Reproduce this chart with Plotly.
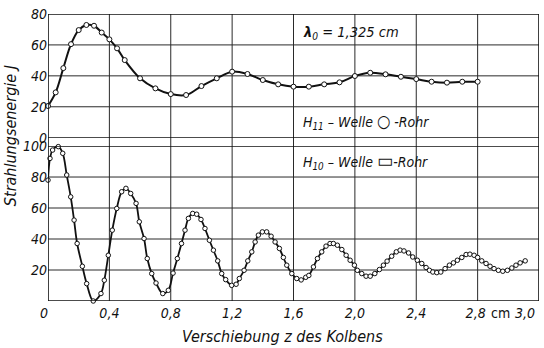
import plotly.graph_objects as go

# ---------------- data ----------------
# H11-Welle, round tube (upper panel)
H11_Z = [0, 0.05, 0.10, 0.15, 0.20, 0.25, 0.30, 0.35, 0.40, 0.45, 0.50,
         0.60, 0.70, 0.80, 0.90, 1.00, 1.10, 1.20, 1.30, 1.40, 1.50, 1.60,
         1.70, 1.80, 1.90, 2.00, 2.10, 2.20, 2.30, 2.40, 2.50, 2.60, 2.70, 2.80]
H11_J = [20.5, 29.3, 45.0, 60.5, 69.6, 72.9, 72.4, 68.0, 63.6, 57.8, 50.2,
         38.4, 31.9, 28.2, 27.6, 33.4, 38.4, 42.7, 41.2, 37.3, 34.5, 33.0,
         33.0, 34.5, 35.8, 39.9, 42.0, 41.0, 39.4, 37.9, 36.2, 35.6, 36.2, 36.2]

# H10-Welle, rectangular tube (lower panel)
H10_Z = [0.000, 0.013, 0.030, 0.067, 0.096, 0.122, 0.148, 0.170, 0.190, 0.224,
         0.252, 0.295, 0.345, 0.367, 0.393, 0.419, 0.448, 0.480, 0.508, 0.539,
         0.574, 0.595, 0.626, 0.647, 0.676, 0.704, 0.748, 0.784, 0.815, 0.843,
         0.870, 0.893, 0.915, 0.943, 0.969, 0.997, 1.023, 1.052, 1.078, 1.106,
         1.132, 1.158, 1.197, 1.226, 1.247, 1.278, 1.302, 1.328, 1.350, 1.371,
         1.397, 1.425, 1.454, 1.480, 1.508, 1.534, 1.556, 1.589, 1.621, 1.650,
         1.680, 1.700, 1.730, 1.756, 1.784, 1.812, 1.838, 1.860, 1.886, 1.915,
         1.943, 1.969, 1.997, 2.016, 2.045, 2.073, 2.100, 2.130, 2.160, 2.186,
         2.210, 2.240, 2.270, 2.295, 2.320, 2.350, 2.377, 2.407, 2.436, 2.464,
         2.486, 2.508, 2.534, 2.560, 2.588, 2.616, 2.642, 2.668, 2.697, 2.725,
         2.750, 2.777, 2.800, 2.827, 2.855, 2.881, 2.907, 2.935, 2.964, 2.994,
         3.023, 3.050, 3.077, 3.110]
H10_J = [78.0, 92.0, 97.4, 99.6, 95.3, 81.3, 67.2, 52.2, 37.1, 22.4,
         11.2, 0.0, 4.8, 13.4, 29.5, 45.7, 59.7, 70.5, 72.7, 69.4,
         63.0, 51.1, 40.3, 27.4, 17.7, 11.6, 4.8, 6.9, 18.0, 27.4,
         37.1, 45.7, 53.3, 56.5, 56.0, 52.6, 46.8, 39.2, 32.8, 25.9,
         17.7, 13.8, 10.1, 10.8, 14.5, 19.8, 25.9, 31.7, 38.1, 42.5,
         44.6, 44.6, 41.8, 38.1, 33.9, 28.1, 23.1, 17.7, 14.5, 13.6,
         15.3, 16.5, 22.0, 27.4, 31.7, 35.4, 37.1, 37.1, 36.0, 33.2,
         29.5, 26.3, 23.1, 19.8, 17.7, 16.0, 16.0, 17.7, 20.3, 23.1,
         25.7, 28.9, 31.7, 32.8, 32.3, 31.0, 28.4, 26.3, 24.2, 21.6,
         19.8, 18.7, 18.3, 18.7, 20.9, 23.1, 24.6, 26.3, 28.1, 30.0,
         30.2, 29.5, 28.1, 25.9, 24.2, 22.4, 20.9, 19.8, 19.2, 19.8,
         21.3, 23.1, 24.6, 25.9]

X_TICKS = [0, 0.4, 0.8, 1.2, 1.6, 2.0, 2.4, 2.8]
X_TICK_TEXT = ["0\u00a0\u00a0", "0,4", "0,8", "1,2", "1,6", "2,0", "2,4", "2,8\u00a0"]
X_END = 3.2
X_END_TEXT = "3,0"
X_UNIT = "cm"
Y_TOP_TICKS = [0, 20, 40, 60, 80]
Y_BOT_TICKS = [20, 40, 60, 80, 100]

X_TITLE = "Verschiebung z des Kolbens"
Y_TITLE = "Strahlungsenergie J"
NOTE_LAMBDA = "<b>λ</b><sub>0</sub> = 1,325 cm"
NOTE_H11 = "H<sub>11</sub> – Welle <span style='font-size:17px'>○</span> -Rohr"
NOTE_H10 = "H<sub>10</sub> – Welle <span style='font-size:19px'>▭</span>-Rohr"

FONT = "Liberation Sans Narrow, DejaVu Sans Condensed, Arial Narrow, DejaVu Sans, sans-serif"
INK = "#111111"

fig = go.Figure()
fig.add_trace(go.Scatter(
    x=H11_Z, y=H11_J, mode="lines+markers", xaxis="x", yaxis="y2",
    line=dict(color=INK, width=2, shape="spline", smoothing=1.0),
    marker=dict(symbol="circle", size=5, color="white", line=dict(color=INK, width=1)),
    showlegend=False, cliponaxis=False))
fig.add_trace(go.Scatter(
    x=H10_Z, y=H10_J, mode="lines+markers", xaxis="x", yaxis="y",
    line=dict(color=INK, width=1.8, shape="spline", smoothing=1.0),
    marker=dict(symbol="circle", size=4.5, color="white", line=dict(color=INK, width=1)),
    showlegend=False, cliponaxis=False))

tickfont = dict(family=FONT, size=14, color=INK, style="italic")

shapes = []
grid = dict(color="#2a2a2a", width=1)
frame = dict(color=INK, width=1.6)
# vertical grid lines running through both panels
for xv in X_TICKS[1:]:
    shapes.append(dict(type="line", xref="x", yref="paper", x0=xv, x1=xv, y0=0, y1=1,
                       line=grid, layer="below"))
# horizontal grid lines of each panel
for yv in Y_BOT_TICKS[:-1]:
    shapes.append(dict(type="line", xref="paper", yref="y", x0=0, x1=1, y0=yv, y1=yv,
                       line=grid, layer="below"))
for yv in Y_TOP_TICKS[1:-1]:
    shapes.append(dict(type="line", xref="paper", yref="y2", x0=0, x1=1, y0=yv, y1=yv,
                       line=grid, layer="below"))
# frame
shapes.append(dict(type="line", xref="x", yref="paper", x0=0, x1=0, y0=0, y1=1, line=frame))
shapes.append(dict(type="line", xref="x", yref="paper", x0=X_END, x1=X_END, y0=0, y1=1, line=frame))
shapes.append(dict(type="line", xref="paper", yref="y", x0=0, x1=1, y0=0, y1=0, line=frame))
shapes.append(dict(type="line", xref="paper", yref="y", x0=0, x1=1, y0=100, y1=100, line=frame))
shapes.append(dict(type="line", xref="paper", yref="y2", x0=0, x1=1, y0=0, y1=0, line=frame))
shapes.append(dict(type="line", xref="paper", yref="y2", x0=0, x1=1, y0=80, y1=80, line=frame))

annotations = [
    dict(text=NOTE_LAMBDA, xref="paper", yref="paper", x=0.515, y=0.934,
         xanchor="left", yanchor="middle", showarrow=False,
         font=dict(family=FONT, size=14.5, color=INK, style="italic")),
    dict(text=NOTE_H11, xref="paper", yref="paper", x=0.515, y=0.625,
         xanchor="left", yanchor="middle", showarrow=False,
         font=dict(family=FONT, size=14, color=INK, style="italic")),
    dict(text=NOTE_H10, xref="paper", yref="paper", x=0.515, y=0.49,
         xanchor="left", yanchor="middle", showarrow=False,
         font=dict(family=FONT, size=14, color=INK, style="italic")),
    dict(text=X_TITLE, xref="paper", yref="paper", x=0.477, y=-0.122,
         xanchor="center", yanchor="middle", showarrow=False,
         font=dict(family=FONT, size=16, color=INK, style="italic")),
    dict(text=Y_TITLE, xref="paper", yref="paper", x=-0.075, y=0.575,
         xanchor="center", yanchor="middle", showarrow=False, textangle=-90,
         font=dict(family=FONT, size=16, color=INK, style="italic")),
    dict(text=X_UNIT, xref="paper", yref="paper", x=0.922, y=-0.042,
         xanchor="center", yanchor="middle", showarrow=False,
         font=dict(family=FONT, size=14, color=INK)),
    dict(text=X_END_TEXT, xref="paper", yref="paper", x=0.972, y=-0.042,
         xanchor="center", yanchor="middle", showarrow=False,
         font=tickfont),
]

fig.update_layout(
    width=544, height=348,
    margin=dict(l=48, r=5, t=14, b=47),
    paper_bgcolor="white", plot_bgcolor="white",
    font=dict(family=FONT, color=INK),
    xaxis=dict(range=[0, X_END], tickvals=X_TICKS, ticktext=X_TICK_TEXT,
               showgrid=False, zeroline=False, showline=False, ticks="",
               tickfont=tickfont, anchor="y", ticklabelstandoff=2),
    yaxis=dict(domain=[0, 0.540], range=[0, 100], tickvals=Y_BOT_TICKS,
               showgrid=False, zeroline=False,
               showline=False, ticks="", tickfont=tickfont, anchor="x"),
    yaxis2=dict(domain=[0.569, 1], range=[0, 80], tickvals=Y_TOP_TICKS,
                showgrid=False, zeroline=False,
                showline=False, ticks="", tickfont=tickfont, anchor="x"),
    shapes=shapes, annotations=annotations,
)

fig.write_html("out.html")
